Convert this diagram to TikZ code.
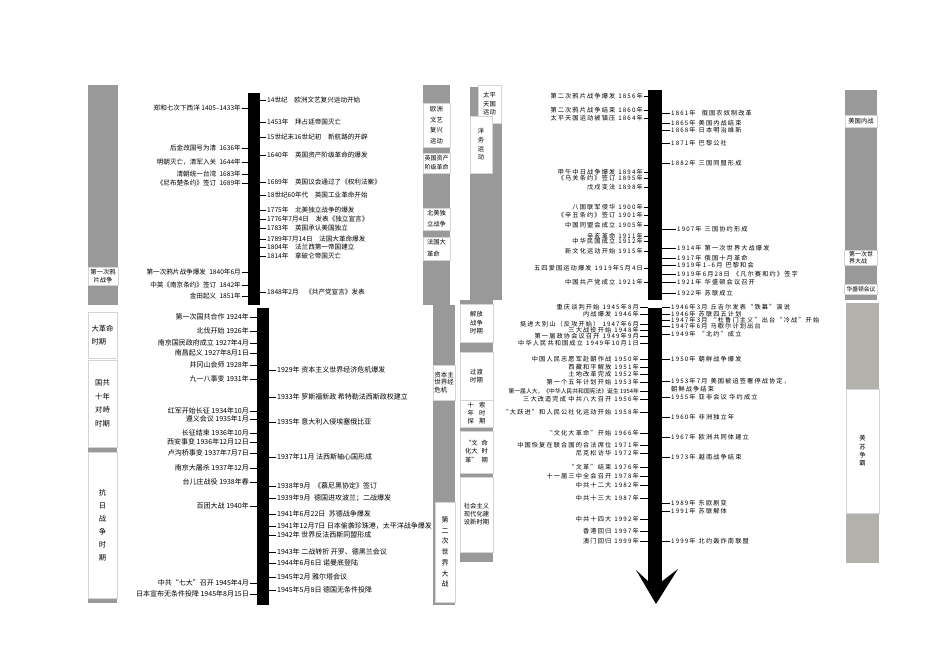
\documentclass[tikz,border=0pt]{standalone}
\usepackage{fontspec}
\newfontfamily\cjk{Noto Sans CJK SC}
\newfontfamily\cjkw[LetterSpace=18]{Noto Sans CJK SC}
\definecolor{colgray}{HTML}{999999}
\definecolor{colpale}{HTML}{B3B1AC}
\definecolor{colline}{HTML}{D4D4D4}

\begin{document}
\begin{tikzpicture}[x=1pt, y=-1pt,
    txa/.style={inner sep=1pt, font=\cjk\fontsize{6.6}{7}\selectfont},
    txb/.style={inner sep=1pt, font=\cjk\fontsize{7}{8}\selectfont},
    txc/.style={inner sep=1pt, font=\cjkw\fontsize{6.2}{7}\selectfont},
    evl/.style={anchor=east},
    evr/.style={anchor=west},
    bar/.style={fill=black, inner sep=0pt, outer sep=0pt},
    lab/.style={fill=white, draw=colline, line width=0.4pt, inner sep=0pt, align=center,
                font=\cjk\fontsize{6.3}{8.5}\selectfont},
    tick/.style={line width=0.9pt}]

        \path[use as bounding box] (0,0) rectangle (945,669);

        % columns
        \fill[colgray] (88,85) rectangle (118,305);
        \fill[colgray] (423,85) rectangle (450,305);
        \fill[colgray] (88,447) rectangle (117,452);
        \fill[colgray] (88,598) rectangle (117,603);
        \fill[colgray] (433,305) rectangle (455,605);
        \fill[colgray] (470,87) rectangle (502,300);
        \fill[colgray] (845,90) rectangle (877,300);
        \fill[colgray] (460,300) rectangle (493,562);
        \fill[colpale] (846,303) rectangle (879,563);

        % period labels
        \node (l1) [lab, minimum width=30pt, minimum height=18pt] at (103,276) {第一次鸦\\片战争};
        \node (l2) [lab, minimum width=27pt, minimum height=44pt, font=\cjk\fontsize{6.3}{10.5}\selectfont] at (436.5,125) {欧洲\\文艺\\复兴\\运动};
        \node (l3) [lab, minimum width=27pt, minimum height=20pt, font=\cjk\fontsize{6}{9}\selectfont] at (436.5,163) {英国资产\\阶级革命};
        \node (l4) [lab, minimum width=27pt, minimum height=22pt, align=left, font=\cjk\fontsize{6.3}{11}\selectfont] at (436.5,219) {北美独\\立战争};
        \node (l5) [lab, minimum width=27pt, minimum height=23pt, align=left, font=\cjk\fontsize{6.3}{12}\selectfont] at (436.5,248.5) {法国大\\革命};

        \node (m1) [lab, minimum width=29pt, minimum height=46pt, align=left, font=\cjk\fontsize{7.3}{13}\selectfont] at (102.5,335) {大革命\\时期};
        \node (m2) [lab, minimum width=29pt, minimum height=87pt, font=\cjk\fontsize{7.3}{13.5}\selectfont] at (102.5,403.5) {国共\\十年\\对峙\\时期};
        \node (m3) [lab, minimum width=29pt, minimum height=146pt, font=\cjk\fontsize{7.3}{13}\selectfont] at (102.5,525) {抗\\日\\战\\争\\时\\期};
        \node (m4) [lab, minimum width=22pt, minimum height=35pt, align=left, font=\cjk\fontsize{6.5}{7.5}\selectfont] at (444,382.5) {资本主\\世界经\\危机};
        \node (m5) [lab, minimum width=20pt, minimum height=100pt, font=\cjk\fontsize{7}{10.7}\selectfont] at (445,552) {第\\二\\次\\世\\界\\大\\战};

        \node (n1) [lab, minimum width=23pt, minimum height=38pt] at (489.5,104) {太平\\天国\\运动};
        \node (n2) [lab, minimum width=22pt, minimum height=57pt, font=\cjk\fontsize{6.3}{8.7}\selectfont] at (481,144.5) {洋\\务\\运\\动};
        \node (n3) [lab, minimum width=32pt, minimum height=12pt] at (861,121) {美国内战};
        \node (n4) [lab, minimum width=33pt, minimum height=15pt, align=left, font=\cjk\fontsize{6}{7.5}\selectfont] at (861,257.5) {第一次世\\界大战};
        \node (n5) [lab, minimum width=33pt, minimum height=10pt, font=\cjk\fontsize{5.8}{7}\selectfont] at (861,289) {华盛顿会议};

        \node (p1) [lab, minimum width=33pt, minimum height=38pt] at (476.5,323) {解放\\战争\\时期};
        \node (p2) [lab, minimum width=33pt, minimum height=48pt, font=\cjk\fontsize{6.3}{8}\selectfont] at (476.5,376) {过渡\\时期};
        \node (p3) [lab, minimum width=33pt, minimum height=27pt, font=\cjk\fontsize{6.3}{8}\selectfont] at (476.5,413.5) {十\hspace{5pt}索\\年\hspace{5pt}时\\探\hspace{5pt}期};
        \node (p4) [lab, minimum width=33pt, minimum height=42pt, font=\cjk\fontsize{6.3}{8.5}\selectfont] at (476.5,452) {\begin{tabular}{@{}l@{\hspace{4pt}}l@{}}“文&命\\化大&时\\革”&期\end{tabular}};
        \node (p5) [lab, minimum width=33pt, minimum height=75pt, font=\cjk\fontsize{6.3}{8}\selectfont] at (476.5,514.5) {社会主义\\现代化建\\设新时期};
        \node (p6) [lab, minimum width=33pt, minimum height=124pt, font=\cjk\fontsize{6.3}{8.3}\selectfont] at (862.5,451) {美\\苏\\争\\霸};

        % bars
        \node (barA) [bar, minimum width=12pt, minimum height=212pt] at (254,199) {};
        \node (barB) [bar, minimum width=12pt, minimum height=297pt] at (263,456.5) {};
        \node (barC) [bar, minimum width=14pt, minimum height=210pt] at (655,195) {};
        \node (barD) [bar, minimum width=14pt, minimum height=277pt] at (655,446.5) {};
        \fill (636,570) -- (649,582) -- (661,582) -- (678,569) -- (656,604) -- cycle;

        % top left
        \node (a1) [txa, evl] at (242,108) {郑和七次下西洋 1405–1433年};
        \node (a2) [txa, evl] at (242,148) {后金改国号为清\enspace 1636年};
        \node (a3) [txa, evl] at (242,162) {明朝灭亡，清军入关\enspace 1644年};
        \node (a4) [txa, evl] at (242,174) {清朝统一台湾\enspace 1683年};
        \node (a5) [txa, evl] at (242,183) {《尼布楚条约》签订\enspace 1689年};
        \node (a6) [txa, evl] at (242,272) {第一次鸦片战争爆发\enspace 1840年6月};
        \node (a7) [txa, evl] at (242,285) {中英《南京条约》签订\enspace 1842年};
        \node (a8) [txa, evl] at (242,296) {金田起义\enspace 1851年};

        \node (b1) [txa, evr] at (266,100) {14世纪\quad 欧洲文艺复兴运动开始};
        \node (b2) [txa, evr] at (266,122) {1453年\quad 拜占廷帝国灭亡};
        \node (b3) [txa, evr] at (266,137) {15世纪末16世纪初\quad 新航路的开辟};
        \node (b4) [txa, evr] at (266,155) {1640年\quad 英国资产阶级革命的爆发};
        \node (b5) [txa, evr] at (266,182) {1689年\quad 英国议会通过了《权利法案》};
        \node (b6) [txa, evr] at (266,195) {18世纪60年代\quad 英国工业革命开始};
        \node (b7) [txa, evr] at (266,210) {1775年\quad 北美独立战争的爆发};
        \node (b8) [txa, evr] at (266,219) {1776年7月4日\quad 发表《独立宣言》};
        \node (b9) [txa, evr] at (266,228) {1783年\quad 英国承认美国独立};
        \node (b10) [txa, evr] at (266,239) {1789年7月14日\quad 法国大革命爆发};
        \node (b11) [txa, evr] at (266,247) {1804年\quad 法兰西第一帝国建立};
        \node (b12) [txa, evr] at (266,256) {1814年\quad 拿破仑帝国灭亡};
        \node (b13) [txa, evr] at (266,292) {1848年2月\quad 《共产党宣言》发表};

        % bottom left
        \node (c1) [txb, evl] at (250,317) {第一次国共合作 1924年};
        \node (c2) [txb, evl] at (250,331) {北伐开始 1926年};
        \node (c3) [txb, evl] at (250,343) {南京国民政府成立 1927年4月};
        \node (c4) [txb, evl] at (250,353) {南昌起义 1927年8月1日};
        \node (c5) [txb, evl] at (250,365) {井冈山会师 1928年};
        \node (c6) [txb, evl] at (250,379) {九一八事变 1931年};
        \node (c7) [txb, evl] at (250,411) {红军开始长征 1934年10月};
        \node (c8) [txb, evl] at (250,419) {遵义会议 1935年1月};
        \node (c9) [txb, evl] at (250,433) {长征结束 1936年10月};
        \node (c10) [txb, evl] at (250,442) {西安事变 1936年12月12日};
        \node (c11) [txb, evl] at (250,453) {卢沟桥事变 1937年7月7日};
        \node (c12) [txb, evl] at (250,468) {南京大屠杀 1937年12月};
        \node (c13) [txb, evl] at (250,482) {台儿庄战役 1938年春};
        \node (c14) [txb, evl] at (250,506) {百团大战 1940年};
        \node (c15) [txb, evl] at (250,583) {中共“七大”召开 1945年4月};
        \node (c16) [txb, evl] at (250,594) {日本宣布无条件投降 1945年8月15日};

        \node (d1) [txb, evr] at (276,370) {1929年 资本主义世界经济危机爆发};
        \node (d2) [txb, evr] at (276,397) {1933年 罗斯福新政 希特勒法西斯政权建立};
        \node (d3) [txb, evr] at (276,422) {1935年 意大利入侵埃塞俄比亚};
        \node (d4) [txb, evr] at (276,457) {1937年11月 法西斯轴心国形成};
        \node (d5) [txb, evr] at (276,486) {1938年9月\enspace 《慕尼黑协定》签订};
        \node (d6) [txb, evr] at (276,498) {1939年9月\enspace 德国进攻波兰；二战爆发};
        \node (d7) [txb, evr] at (276,514) {1941年6月22日\enspace 苏德战争爆发};
        \node (d8) [txb, evr] at (276,526) {1941年12月7日 日本偷袭珍珠港，太平洋战争爆发};
        \node (d9) [txb, evr] at (276,535) {1942年 世界反法西斯同盟形成};
        \node (d10) [txb, evr] at (276,552) {1943年 二战转折 开罗、德黑兰会议};
        \node (d11) [txb, evr] at (276,563) {1944年6月6日 诺曼底登陆};
        \node (d12) [txb, evr] at (276,577) {1945年2月 雅尔塔会议};
        \node (d13) [txb, evr] at (276,590) {1945年5月8日 德国无条件投降};

        % top right
        \node (e1) [txc, evl] at (644,96) {第二次鸦片战争爆发\enspace 1856年};
        \node (e2) [txc, evl] at (644,110) {第二次鸦片战争结束\enspace 1860年};
        \node (e3) [txc, evl] at (644,118) {太平天国运动被镇压\enspace 1864年};
        \node (e4) [txc, evl] at (644,172) {甲午中日战争爆发\enspace 1894年};
        \node (e5) [txc, evl] at (644,178) {《马关条约》签订\enspace 1895年};
        \node (e6) [txc, evl] at (644,187) {戊戌变法\enspace 1898年};
        \node (e7) [txc, evl] at (644,207) {八国联军侵华\enspace 1900年};
        \node (e8) [txc, evl] at (644,215) {《辛丑条约》签订\enspace 1901年};
        \node (e9) [txc, evl] at (644,225) {中国同盟会成立\enspace 1905年};
        \node (e10) [txc, evl] at (644,236) {辛亥革命\enspace 1911年};
        \node (e11) [txc, evl] at (644,241) {中华民国成立\enspace 1912年};
        \node (e12) [txc, evl] at (644,251) {新文化运动开始\enspace 1915年};
        \node (e13) [txc, evl] at (644,268) {五四爱国运动爆发\enspace 1919年5月4日};
        \node (e14) [txc, evl] at (644,282) {中国共产党成立\enspace 1921年};

        \node (g1) [txc, evr] at (670,113) {1861年\quad 俄国农奴制改革};
        \node (g2) [txc, evr] at (670,123) {1865年\enspace 美国内战结束};
        \node (g3) [txc, evr] at (670,130) {1868年\enspace 日本明治维新};
        \node (g4) [txc, evr] at (670,143) {1871年\enspace 巴黎公社};
        \node (g5) [txc, evr] at (670,163) {1882年\enspace 三国同盟形成};
        \node (g6) [txc, evr] at (676,229) {1907年\enspace 三国协约形成};
        \node (g7) [txc, evr] at (676,248) {1914年\enspace 第一次世界大战爆发};
        \node (g8) [txc, evr] at (676,258) {1917年\enspace 俄国十月革命};
        \node (g9) [txc, evr] at (676,265) {1919年1–6月\enspace 巴黎和会};
        \node (g10) [txc, evr] at (676,274) {1919年6月28日\enspace 《凡尔赛和约》签字};
        \node (g11) [txc, evr] at (676,282) {1921年\enspace 华盛顿会议召开};
        \node (g12) [txc, evr] at (676,293) {1922年\enspace 苏联成立};

        % bottom right
        \node (f1) [txc, evl] at (640,307) {重庆谈判开始\enspace 1945年8月};
        \node (f2) [txc, evl] at (640,314) {内战爆发\enspace 1946年};
        \node (f3) [txc, evl] at (640,324) {挺进大别山（反攻开始）\enspace 1947年6月};
        \node (f4) [txc, evl] at (640,330) {三大战役开始\enspace 1948年};
        \node (f5) [txc, evl] at (640,336) {第一届政协会议召开\enspace 1949年9月};
        \node (f6) [txc, evl] at (640,343) {中华人民共和国成立\enspace 1949年10月1日};
        \node (f7) [txc, evl] at (640,359) {中国人民志愿军赴朝作战\enspace 1950年};
        \node (f8) [txc, evl] at (640,367) {西藏和平解放\enspace 1951年};
        \node (f9) [txc, evl] at (640,374) {土地改革完成\enspace 1952年};
        \node (f10) [txc, evl] at (640,382) {第一个五年计划开始\enspace 1953年};
        \node (f11) [txa, evl, font=\cjk\fontsize{5.8}{7}\selectfont] at (640,391) {第一届人大，《中华人民共和国宪法》诞生 1954年};
        \node (f12) [txc, evl] at (640,399) {三大改造完成 中共八大召开\enspace 1956年};
        \node (f13) [txc, evl] at (640,412) {“大跃进”和人民公社化运动开始\enspace 1958年};
        \node (f14) [txc, evl] at (640,433) {“文化大革命”开始\enspace 1966年};
        \node (f15) [txc, evl] at (640,445) {中国恢复在联合国的合法席位\enspace 1971年};
        \node (f16) [txc, evl] at (640,453) {尼克松访华\enspace 1972年};
        \node (f17) [txc, evl] at (640,467) {“文革”结束\enspace 1976年};
        \node (f18) [txc, evl] at (640,476) {十一届三中全会召开\enspace 1978年};
        \node (f19) [txc, evl] at (640,485) {中共十二大\enspace 1982年};
        \node (f20) [txc, evl] at (640,498) {中共十三大\enspace 1987年};
        \node (f21) [txc, evl] at (640,519) {中共十四大\enspace 1992年};
        \node (f22) [txc, evl] at (640,531) {香港回归\enspace 1997年};
        \node (f23) [txc, evl] at (640,541) {澳门回归\enspace 1999年};

        \node (h1) [txc, evr] at (670,307) {1946年3月\enspace 丘吉尔发表“铁幕”演说};
        \node (h2) [txc, evr] at (670,314) {1946年\enspace 苏联四五计划};
        \node (h3) [txc, evr] at (670,320) {1947年3月\enspace “杜鲁门主义”出台“冷战”开始};
        \node (h4) [txc, evr] at (670,326) {1947年6月\enspace 马歇尔计划出台};
        \node (h5) [txc, evr] at (670,334) {1949年\enspace “北约”成立};
        \node (h6) [txc, evr] at (670,359) {1950年\enspace 朝鲜战争爆发};
        \node (h7) [txc, evr] at (670,381) {1953年7月\enspace 美国被迫签署停战协定，};
        \node (h7b) [txc, anchor=north west] at (h7.south west) {朝鲜战争结束};
        \node (h8) [txc, evr] at (670,397) {1955年\enspace 亚非会议 华约成立};
        \node (h9) [txc, evr] at (670,417) {1960年\enspace 非洲独立年};
        \node (h10) [txc, evr] at (670,437) {1967年\enspace 欧洲共同体建立};
        \node (h11) [txc, evr] at (670,457) {1973年\enspace 越南战争结束};
        \node (h12) [txc, evr] at (670,503) {1989年\enspace 东欧剧变};
        \node (h13) [txc, evr] at (670,511) {1991年\enspace 苏联解体};
        \node (h14) [txc, evr] at (670,541) {1999年\enspace 北约轰炸南联盟};

        % ticks
        \draw[tick] (a1.east) -- (a1.east -| barA.west);
        \draw[tick] (a2.east) -- (a2.east -| barA.west);
        \draw[tick] (a3.east) -- (a3.east -| barA.west);
        \draw[tick] (a4.east) -- (a4.east -| barA.west);
        \draw[tick] (a5.east) -- (a5.east -| barA.west);
        \draw[tick] (a6.east) -- (a6.east -| barA.west);
        \draw[tick] (a7.east) -- (a7.east -| barA.west);
        \draw[tick] (a8.east) -- (a8.east -| barA.west);
        \draw[tick] (b1.west) -- (b1.west -| barA.east);
        \draw[tick] (b2.west) -- (b2.west -| barA.east);
        \draw[tick] (b3.west) -- (b3.west -| barA.east);
        \draw[tick] (b4.west) -- (b4.west -| barA.east);
        \draw[tick] (b5.west) -- (b5.west -| barA.east);
        \draw[tick] (b6.west) -- (b6.west -| barA.east);
        \draw[tick] (b7.west) -- (b7.west -| barA.east);
        \draw[tick] (b8.west) -- (b8.west -| barA.east);
        \draw[tick] (b9.west) -- (b9.west -| barA.east);
        \draw[tick] (b10.west) -- (b10.west -| barA.east);
        \draw[tick] (b11.west) -- (b11.west -| barA.east);
        \draw[tick] (b12.west) -- (b12.west -| barA.east);
        \draw[tick] (b13.west) -- (b13.west -| barA.east);

        \draw[tick] (c1.east) -- (c1.east -| barB.west);
        \draw[tick] (c2.east) -- (c2.east -| barB.west);
        \draw[tick] (c3.east) -- (c3.east -| barB.west);
        \draw[tick] (c4.east) -- (c4.east -| barB.west);
        \draw[tick] (c5.east) -- (c5.east -| barB.west);
        \draw[tick] (c6.east) -- (c6.east -| barB.west);
        \draw[tick] (c7.east) -- (c7.east -| barB.west);
        \draw[tick] (c8.east) -- (c8.east -| barB.west);
        \draw[tick] (c9.east) -- (c9.east -| barB.west);
        \draw[tick] (c10.east) -- (c10.east -| barB.west);
        \draw[tick] (c11.east) -- (c11.east -| barB.west);
        \draw[tick] (c12.east) -- (c12.east -| barB.west);
        \draw[tick] (c13.east) -- (c13.east -| barB.west);
        \draw[tick] (c14.east) -- (c14.east -| barB.west);
        \draw[tick] (c15.east) -- (c15.east -| barB.west);
        \draw[tick] (c16.east) -- (c16.east -| barB.west);
        \draw[tick] (d1.west) -- (d1.west -| barB.east);
        \draw[tick] (d2.west) -- (d2.west -| barB.east);
        \draw[tick] (d3.west) -- (d3.west -| barB.east);
        \draw[tick] (d4.west) -- (d4.west -| barB.east);
        \draw[tick] (d5.west) -- (d5.west -| barB.east);
        \draw[tick] (d6.west) -- (d6.west -| barB.east);
        \draw[tick] (d7.west) -- (d7.west -| barB.east);
        \draw[tick] (d8.west) -- (d8.west -| barB.east);
        \draw[tick] (d9.west) -- (d9.west -| barB.east);
        \draw[tick] (d10.west) -- (d10.west -| barB.east);
        \draw[tick] (d11.west) -- (d11.west -| barB.east);
        \draw[tick] (d12.west) -- (d12.west -| barB.east);
        \draw[tick] (d13.west) -- (d13.west -| barB.east);

        \draw[tick] (e1.east) -- (e1.east -| barC.west);
        \draw[tick] (e2.east) -- (e2.east -| barC.west);
        \draw[tick] (e3.east) -- (e3.east -| barC.west);
        \draw[tick] (e4.east) -- (e4.east -| barC.west);
        \draw[tick] (e5.east) -- (e5.east -| barC.west);
        \draw[tick] (e6.east) -- (e6.east -| barC.west);
        \draw[tick] (e7.east) -- (e7.east -| barC.west);
        \draw[tick] (e8.east) -- (e8.east -| barC.west);
        \draw[tick] (e9.east) -- (e9.east -| barC.west);
        \draw[tick] (e10.east) -- (e10.east -| barC.west);
        \draw[tick] (e11.east) -- (e11.east -| barC.west);
        \draw[tick] (e12.east) -- (e12.east -| barC.west);
        \draw[tick] (e13.east) -- (e13.east -| barC.west);
        \draw[tick] (e14.east) -- (e14.east -| barC.west);
        \draw[tick] (g1.west) -- (g1.west -| barC.east);
        \draw[tick] (g2.west) -- (g2.west -| barC.east);
        \draw[tick] (g3.west) -- (g3.west -| barC.east);
        \draw[tick] (g4.west) -- (g4.west -| barC.east);
        \draw[tick] (g5.west) -- (g5.west -| barC.east);
        \draw[tick] (g6.west) -- (g6.west -| barC.east);
        \draw[tick] (g7.west) -- (g7.west -| barC.east);
        \draw[tick] (g8.west) -- (g8.west -| barC.east);
        \draw[tick] (g9.west) -- (g9.west -| barC.east);
        \draw[tick] (g10.west) -- (g10.west -| barC.east);
        \draw[tick] (g11.west) -- (g11.west -| barC.east);
        \draw[tick] (g12.west) -- (g12.west -| barC.east);

        \draw[tick] (f1.east) -- (f1.east -| barD.west);
        \draw[tick] (f2.east) -- (f2.east -| barD.west);
        \draw[tick] (f3.east) -- (f3.east -| barD.west);
        \draw[tick] (f4.east) -- (f4.east -| barD.west);
        \draw[tick] (f5.east) -- (f5.east -| barD.west);
        \draw[tick] (f6.east) -- (f6.east -| barD.west);
        \draw[tick] (f7.east) -- (f7.east -| barD.west);
        \draw[tick] (f8.east) -- (f8.east -| barD.west);
        \draw[tick] (f9.east) -- (f9.east -| barD.west);
        \draw[tick] (f10.east) -- (f10.east -| barD.west);
        \draw[tick] (f11.east) -- (f11.east -| barD.west);
        \draw[tick] (f12.east) -- (f12.east -| barD.west);
        \draw[tick] (f13.east) -- (f13.east -| barD.west);
        \draw[tick] (f14.east) -- (f14.east -| barD.west);
        \draw[tick] (f15.east) -- (f15.east -| barD.west);
        \draw[tick] (f16.east) -- (f16.east -| barD.west);
        \draw[tick] (f17.east) -- (f17.east -| barD.west);
        \draw[tick] (f18.east) -- (f18.east -| barD.west);
        \draw[tick] (f19.east) -- (f19.east -| barD.west);
        \draw[tick] (f20.east) -- (f20.east -| barD.west);
        \draw[tick] (f21.east) -- (f21.east -| barD.west);
        \draw[tick] (f22.east) -- (f22.east -| barD.west);
        \draw[tick] (f23.east) -- (f23.east -| barD.west);
        \draw[tick] (h1.west) -- (h1.west -| barD.east);
        \draw[tick] (h2.west) -- (h2.west -| barD.east);
        \draw[tick] (h3.west) -- (h3.west -| barD.east);
        \draw[tick] (h4.west) -- (h4.west -| barD.east);
        \draw[tick] (h5.west) -- (h5.west -| barD.east);
        \draw[tick] (h6.west) -- (h6.west -| barD.east);
        \draw[tick] (h7.west) -- (h7.west -| barD.east);
        \draw[tick] (h8.west) -- (h8.west -| barD.east);
        \draw[tick] (h9.west) -- (h9.west -| barD.east);
        \draw[tick] (h10.west) -- (h10.west -| barD.east);
        \draw[tick] (h11.west) -- (h11.west -| barD.east);
        \draw[tick] (h12.west) -- (h12.west -| barD.east);
        \draw[tick] (h13.west) -- (h13.west -| barD.east);
        \draw[tick] (h14.west) -- (h14.west -| barD.east);

    \end{tikzpicture}
\end{document}
